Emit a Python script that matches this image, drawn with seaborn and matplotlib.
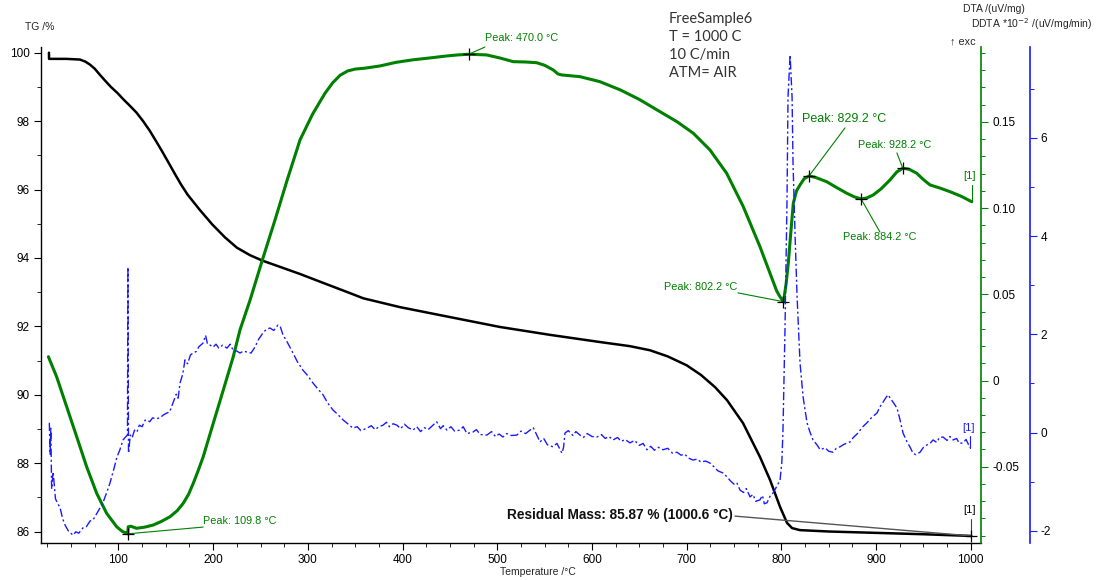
import matplotlib
matplotlib.use("Agg")
import matplotlib.pyplot as plt
import seaborn as sns
import pandas as pd
from matplotlib.ticker import MultipleLocator, FuncFormatter

# ---------------- data ----------------
tg_T = [26.6, 26.7, 45.0, 59.3, 65.0, 70.0, 75.0, 80.5, 86.0, 92.0, 99.0, 105.8, 112.0, 119.0,
        126.0, 133.0, 140.0, 146.0, 153.0, 159.7, 166.0, 173.0, 186.0, 199.0, 212.5, 225.0,
        238.9, 252.0, 265.3, 291.7, 318.0, 344.5, 358.4, 397.3, 450.0, 502.9, 555.7, 608.4,
        640.0, 661.2, 680.0, 700.0, 715.0, 730.0, 742.6, 759.5, 777.4, 788.0, 798.6, 806.0,
        811.3, 819.7, 850.0, 900.0, 950.0, 1000.6]
tg_val = [100.0, 99.82, 99.82, 99.80, 99.74, 99.65, 99.53, 99.35, 99.18, 99.0, 98.82, 98.62,
          98.45, 98.25, 98.0, 97.72, 97.4, 97.12, 96.78, 96.45, 96.15, 95.85, 95.4, 94.98,
          94.6, 94.3, 94.08, 93.92, 93.79, 93.53, 93.25, 92.97, 92.82, 92.56, 92.27, 91.98,
          91.75, 91.54, 91.42, 91.30, 91.12, 90.86, 90.58, 90.22, 89.84, 89.17, 88.18, 87.51,
          86.72, 86.25, 86.10, 86.04, 86.00, 85.96, 85.92, 85.87]

dta_T = [26.0, 34.7, 45.3, 55.9, 66.4, 77.0, 87.5, 98.1, 104.0, 108.7, 109.8, 110.3, 113.0,
         119.2, 128.0, 136.7, 145.0, 154.4, 162.0, 168.4, 174.0, 179.0, 184.0, 189.5, 200.1,
         210.7, 221.2, 228.3, 239.0, 252.0, 265.3, 278.0, 291.7, 305.0, 318.0, 326.0, 334.0,
         342.0, 350.0, 360.0, 376.1, 393.0, 411.3, 428.0, 446.6, 458.0, 470.0, 488.8, 503.0,
         516.9, 530.0, 541.6, 550.0, 559.1, 564.0, 568.0, 587.3, 608.4, 630.0, 650.0, 671.8,
         690.0, 707.0, 724.6, 742.2, 759.8, 777.4, 788.0, 795.0, 798.5, 802.2, 805.0, 807.3,
         810.0, 812.6, 816.0, 819.7, 824.0, 829.2, 836.0, 847.8, 858.0, 869.0, 877.0, 884.2,
         890.0, 897.0, 905.0, 914.7, 922.0, 928.2, 935.0, 942.9, 950.0, 957.0, 968.0, 978.1,
         990.0, 1001.0]
dta_val = [0.0138, 0.0022, -0.0152, -0.0326, -0.0500, -0.0654, -0.0770, -0.0848, -0.0875,
           -0.0886, -0.0889, -0.0848, -0.0845, -0.0857, -0.0850, -0.0838, -0.0818, -0.0790,
           -0.0755, -0.0712, -0.0660, -0.0596, -0.0525, -0.0442, -0.0248, -0.0055, 0.0138,
           0.0293, 0.0467, 0.0700, 0.0931, 0.1160, 0.1395, 0.1545, 0.1665, 0.1725, 0.1770,
           0.1795, 0.1806, 0.1811, 0.1824, 0.1845, 0.1860, 0.1870, 0.1882, 0.1888, 0.1892,
           0.1888, 0.1870, 0.1849, 0.1847, 0.1843, 0.1828, 0.1801, 0.1778, 0.1772, 0.1762,
           0.1733, 0.1685, 0.1630, 0.1559, 0.1500, 0.1434, 0.1337, 0.1202, 0.1008, 0.0776,
           0.0622, 0.0520, 0.0486, 0.0457, 0.0560, 0.0680, 0.0860, 0.1028, 0.1100, 0.1134,
           0.1170, 0.1186, 0.1178, 0.1153, 0.1120, 0.1086, 0.1065, 0.1053, 0.1058, 0.1076,
           0.1110, 0.1163, 0.1210, 0.1231, 0.1225, 0.1202, 0.1165, 0.1134, 0.1115, 0.1095,
           0.1068, 0.1037]

ddta_T = [27.0, 27.8, 28.6, 29.4, 31.0, 33.5, 36.0, 38.2, 41.0, 43.5, 47.0, 52.0, 55.0, 58.0,
          62.5, 66.0, 70.0, 73.1, 78.0, 83.6, 87.0, 91.0, 95.0, 98.4, 101.5, 104.8, 107.0,
          109.5, 110.0, 110.6, 112.5, 114.3, 117.0, 119.5, 122.0, 125.0, 128.0, 130.0, 133.0,
          136.0, 139.5, 143.8, 147.5, 151.2, 154.0, 157.5, 161.0, 163.0, 165.0, 168.0, 170.2,
          173.0, 176.0, 178.7, 182.0, 185.0, 189.2, 192.0, 194.0, 197.0, 199.8, 203.0, 206.0,
          210.0, 214.6, 218.0, 221.0, 225.0, 228.3, 232.0, 235.7, 240.0, 244.1, 248.0, 252.6,
          256.0, 260.0, 264.0, 268.4, 271.0, 273.7, 278.0, 284.3, 289.0, 294.8, 299.0, 305.4,
          310.0, 316.0, 321.0, 326.5, 331.0, 337.1, 342.0, 347.6, 352.0, 356.0, 362.4, 367.0,
          371.0, 375.0, 379.3, 383.0, 386.0, 390.0, 394.1, 398.0, 402.0, 406.0, 411.0, 415.0,
          419.0, 423.0, 427.0, 432.1, 436.0, 440.0, 443.0, 446.9, 451.0, 455.0, 460.6, 464.0,
          468.0, 474.3, 478.0, 482.0, 489.1, 494.0, 498.0, 502.0, 506.0, 510.0, 515.0, 520.8,
          525.0, 530.0, 534.5, 538.0, 541.0, 545.1, 549.0, 553.0, 558.8, 563.0, 568.3, 570.0,
          571.5, 575.0, 580.0, 583.0, 587.3, 591.0, 595.0, 600.0, 605.3, 610.0, 614.0, 618.0,
          622.2, 627.0, 631.0, 635.0, 640.1, 645.0, 650.0, 654.0, 658.1, 662.0, 666.0, 670.0,
          675.0, 680.0, 685.0, 689.8, 694.0, 698.0, 702.0, 706.7, 711.0, 715.0, 720.0, 724.6,
          729.0, 733.0, 738.0, 742.6, 746.0, 750.0, 753.0, 756.3, 760.0, 763.0, 766.9, 770.0,
          773.0, 777.4, 780.0, 782.0, 784.8, 788.0, 791.2, 795.0, 798.6, 800.5, 801.7, 803.8,
          806.0, 807.0, 809.2, 811.3, 812.3, 814.5, 816.6, 819.7, 822.9, 827.1, 830.0, 833.4,
          837.6, 841.0, 846.1, 850.0, 854.5, 858.0, 861.9, 866.0, 872.5, 876.0, 880.9, 885.0,
          890.4, 895.0, 901.0, 904.0, 907.3, 910.0, 912.6, 915.0, 917.9, 922.1, 925.3, 928.5,
          932.7, 936.0, 939.0, 942.0, 946.4, 950.0, 953.8, 957.0, 960.2, 964.0, 967.0, 970.7,
          975.0, 978.0, 981.3, 985.0, 988.0, 991.9, 995.0, 999.3]
ddta_val = [0.20, -0.45, 0.10, -1.15, -0.80, -1.35, -1.45, -1.52, -1.75, -1.88, -2.00, -2.09,
            -2.02, -2.05, -1.94, -1.92, -1.80, -1.78, -1.62, -1.43, -1.25, -1.03, -0.75, -0.50,
            -0.35, -0.15, -0.10, -0.05, 3.37, -0.42, -0.05, -0.11, 0.05, 0.01, 0.15, 0.12, 0.25,
            0.26, 0.22, 0.30, 0.28, 0.30, 0.36, 0.40, 0.42, 0.60, 0.78, 0.70, 1.01, 1.20, 1.48,
            1.40, 1.58, 1.62, 1.65, 1.75, 1.82, 1.98, 1.80, 1.78, 1.74, 1.80, 1.72, 1.78, 1.72,
            1.80, 1.68, 1.66, 1.62, 1.66, 1.64, 1.62, 1.74, 1.90, 2.03, 2.10, 2.13, 2.08, 2.19,
            2.15, 1.99, 1.85, 1.62, 1.44, 1.27, 1.18, 1.01, 0.90, 0.77, 0.60, 0.46, 0.38, 0.26,
            0.18, 0.09, 0.12, 0.04, 0.09, 0.14, 0.06, 0.12, 0.15, 0.21, 0.12, 0.18, 0.15, 0.08,
            0.17, 0.10, 0.05, 0.12, 0.02, 0.10, 0.06, 0.15, 0.22, 0.08, 0.14, 0.05, 0.12, 0.03,
            0.05, 0.12, -0.02, 0.01, 0.06, -0.04, -0.05, 0.02, -0.08, -0.03, -0.09, -0.02, -0.06,
            -0.05, 0.03, -0.02, 0.05, 0.10, -0.02, -0.19, -0.12, -0.25, -0.29, -0.22, -0.42,
            -0.30, -0.01, 0.04, -0.06, 0.02, -0.05, -0.10, -0.02, -0.08, -0.09, -0.04, -0.12,
            -0.08, -0.15, -0.10, -0.18, -0.14, -0.21, -0.16, -0.26, -0.22, -0.35, -0.28, -0.36,
            -0.30, -0.35, -0.32, -0.42, -0.40, -0.46, -0.44, -0.52, -0.56, -0.54, -0.60, -0.58,
            -0.62, -0.70, -0.78, -0.82, -0.90, -0.98, -1.05, -1.02, -1.17, -1.22, -1.14, -1.31,
            -1.26, -1.40, -1.37, -1.28, -1.45, -1.43, -1.30, -1.23, -1.10, -0.97, -0.60, 0.05,
            2.08, 4.80, 6.83, 7.69, 6.83, 5.49, 4.00, 2.76, 1.42, 0.73, 0.20, 0.02, -0.15, -0.25,
            -0.35, -0.31, -0.38, -0.40, -0.32, -0.29, -0.24, -0.19, -0.10, -0.01, 0.10, 0.20,
            0.30, 0.40, 0.52, 0.62, 0.70, 0.77, 0.70, 0.62, 0.50, 0.26, -0.01, -0.19, -0.30,
            -0.42, -0.45, -0.40, -0.30, -0.25, -0.22, -0.15, -0.20, -0.10, -0.09, -0.16, -0.08,
            -0.15, -0.12, -0.22, -0.21, -0.14, -0.31]

peak_T = [109.8, 470.0, 802.2, 829.2, 884.2, 928.2]
peak_val = [-0.0889, 0.1892, 0.0457, 0.1186, 0.1053, 0.1231]
peak_labels = ["Peak: 109.8 °C", "Peak: 470.0 °C", "Peak: 802.2 °C",
               "Peak: 829.2 °C", "Peak: 884.2 °C", "Peak: 928.2 °C"]
residual_T = 1000.6
residual_mass = 85.87

x_ticks = [100, 200, 300, 400, 500, 600, 700, 800, 900, 1000]
tg_ticks = [86, 88, 90, 92, 94, 96, 98, 100]
dta_ticks = [-0.05, 0.0, 0.05, 0.10, 0.15]
ddta_ticks = [-2, 0, 2, 4, 6]

info_lines = ["FreeSample6", "T = 1000 C", "10 C/min", "ATM= AIR"]

# ---------------- figure ----------------
sns.set_style("ticks")
plt.rcParams['font.family'] = ['Liberation Sans', 'DejaVu Sans']
plt.rcParams['axes.unicode_minus'] = False

W, H = 1102, 580
fig = plt.figure(figsize=(W / 100, H / 100), dpi=100)
ax = fig.add_axes([41 / W, 1 - 543.3 / H, (981 - 41) / W, (543.3 - 47) / H])
ax2 = ax.twinx()
ax3 = ax.twinx()

GREEN = "#008000"
BLUE = "#1a1aff"

tg_df = pd.DataFrame({"T": tg_T, "TG": tg_val})
dta_df = pd.DataFrame({"T": dta_T, "DTA": dta_val})
ddta_df = pd.DataFrame({"T": ddta_T, "DDTA": ddta_val})
peak_df = pd.DataFrame({"T": peak_T, "DTA": peak_val})

sns.lineplot(data=ddta_df, x="T", y="DDTA", ax=ax3, color=BLUE, linewidth=1.0,
             estimator=None, sort=False, linestyle=(0, (6, 2, 1.5, 2)))
sns.lineplot(data=tg_df, x="T", y="TG", ax=ax, color="black", linewidth=1.8,
             estimator=None, sort=False, solid_joinstyle="round")
sns.lineplot(data=dta_df, x="T", y="DTA", ax=ax2, color=GREEN, linewidth=2.2,
             estimator=None, sort=False, solid_joinstyle="round")
sns.scatterplot(data=peak_df, x="T", y="DTA", ax=ax2, marker="+", s=80,
                color="black", linewidth=0.9, zorder=5)
sns.scatterplot(x=[residual_T], y=[residual_mass], ax=ax, marker="+", s=80,
                color="black", linewidth=0.9, zorder=5)

# ---------------- axes limits / ticks ----------------
ax.set_xlim(18.2, 1010.8)
ax.set_ylim(85.655, 100.167)
ax2.set_ylim(-0.0944, 0.1934)
ax3.set_ylim(-2.255, 7.853)

ax.set_xticks(x_ticks)
ax.xaxis.set_minor_locator(MultipleLocator(25))
ax.set_yticks(tg_ticks)
ax.yaxis.set_minor_locator(MultipleLocator(1))
ax2.set_yticks(dta_ticks)
ax2.yaxis.set_minor_locator(MultipleLocator(0.01))
ax2.yaxis.set_major_formatter(FuncFormatter(lambda v, p: "0" if abs(v) < 1e-9 else f"{v:.2f}"))
ax3.set_yticks(ddta_ticks)
ax3.yaxis.set_minor_locator(MultipleLocator(1))

for a in (ax, ax2, ax3):
    a.set_xlabel("")
    a.set_ylabel("")
    for s in a.spines.values():
        s.set_visible(False)

ax.spines["left"].set_visible(True)
ax.spines["bottom"].set_visible(True)
ax.spines["left"].set_color("black")
ax.spines["bottom"].set_color("black")
ax.spines["left"].set_linewidth(1.0)
ax.spines["bottom"].set_linewidth(1.0)
ax2.spines["right"].set_visible(True)
ax2.spines["right"].set_color(GREEN)
ax2.spines["right"].set_linewidth(1.2)
ax3.spines["right"].set_visible(True)
ax3.spines["right"].set_color(BLUE)
ax3.spines["right"].set_linewidth(1.2)
ax3.spines["right"].set_position(("outward", 35))

ax.tick_params(axis="both", which="major", direction="out", length=5, width=0.8,
               labelsize=8.5, colors="black", pad=3)
ax.tick_params(axis="both", which="minor", direction="out", length=3, width=0.7)
ax2.tick_params(axis="y", which="major", direction="out", length=5, width=0.8,
                color=GREEN, labelcolor="black", labelsize=8.5, pad=3)
ax2.tick_params(axis="y", which="minor", direction="out", length=3, width=0.7, color=GREEN)
ax3.tick_params(axis="y", which="major", direction="out", length=5, width=0.8,
                color=BLUE, labelcolor="black", labelsize=8.5, pad=3)
ax3.tick_params(axis="y", which="minor", direction="out", length=3, width=0.7, color=BLUE)

# ---------------- annotations ----------------
fs = 7.8
# (text x, text y, ha, leader end x, leader end y, fontsize)
ann = [
    (189.4, -0.0815, "left", 189.4, -0.0850, fs),
    (487.0, 0.1985, "left", 487.0, 0.1934, fs),
    (753.0, 0.0542, "right", 754.2, 0.0508, fs),
    (821.6, 0.1517, "left", 867.2, 0.1465, 9.0),
    (864.9, 0.0832, "left", 904.1, 0.0861, fs),
    (880.7, 0.1366, "left", 922.0, 0.1320, fs),
]
for (tx, ty, ha, lx, ly, f), pT, pv, lab in zip(ann, peak_T, peak_val, peak_labels):
    ax2.plot([pT, lx], [pv, ly], color=GREEN, linewidth=0.8, clip_on=False, zorder=4)
    ax2.text(tx, ty, lab, color=GREEN, fontsize=f, ha=ha, va="center", clip_on=False)

# residual mass
ax.plot([751.0, residual_T], [86.45, residual_mass], color="#555555", linewidth=1.0, zorder=3)
ax.text(749.0, 86.48, f"Residual Mass: {residual_mass:.2f} % ({residual_T:.1f} °C)",
        fontsize=9.8, fontweight="bold", ha="right", va="center", color="#111111")

# [1] markers
ax.plot([residual_T, residual_T], [86.37, residual_mass], color="#444444", linewidth=0.8)
ax.text(999.0, 86.62, "[1]", fontsize=8, ha="center", va="center", color="black")
ax2.plot([1001.0, 1001.0], [0.1134, 0.1037], color=GREEN, linewidth=0.8, clip_on=False)
ax2.text(999.0, 0.1185, "[1]", fontsize=8, ha="center", va="center", color=GREEN)
ax3.plot([999.3, 999.3], [-0.07, -0.31], color=BLUE, linewidth=0.8)
ax3.text(997.5, 0.10, "[1]", fontsize=8, ha="center", va="center", color=BLUE)

# axis labels / header texts
fig.text(25 / W, 1 - 27 / H, "TG /%", fontsize=7.5, ha="left", va="center")
fig.text(1025 / W, 1 - 9 / H, "DTA /(uV/mg)", fontsize=7.5, ha="right", va="center")
fig.text(1092 / W, 1 - 24 / H, "DDTA *10$^{-2}$ /(uV/mg/min)", fontsize=7.5,
         ha="right", va="center")
fig.text(950 / W, 1 - 41 / H, "↑ exc", fontsize=7.8, ha="left", va="center")
fig.text(538 / W, 1 - 572 / H, "Temperature /°C", fontsize=7.5, ha="center", va="center")
fig.text(669 / W, 1 - 12 / H, "\n".join(info_lines), fontsize=10.5, ha="left", va="top",
         family=["Lato", "DejaVu Sans"], color="#333333", linespacing=1.35)

fig.savefig("out.png", dpi=100)
